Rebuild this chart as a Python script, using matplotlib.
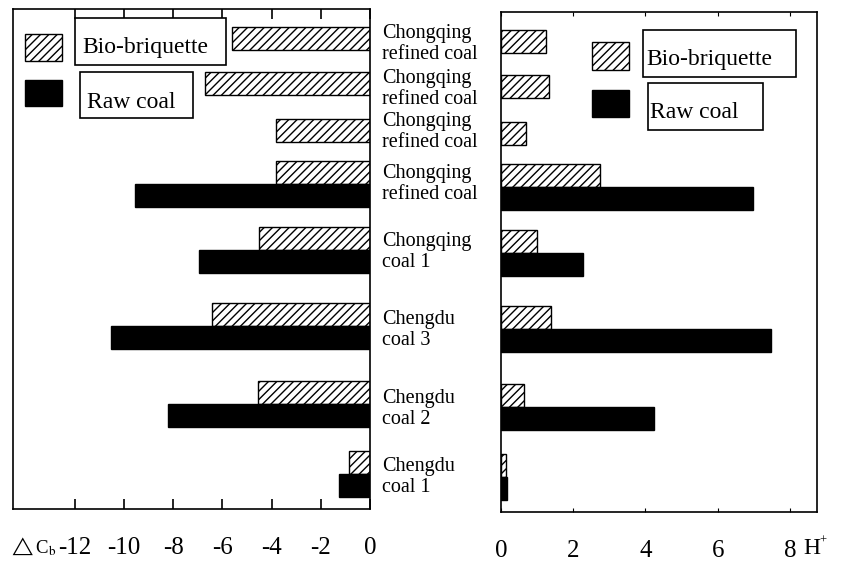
import numpy as np
import matplotlib
matplotlib.use('Agg')
import matplotlib.pyplot as plt
from matplotlib.patches import Rectangle
from matplotlib.transforms import Affine2D

plt.rcParams['font.family'] = ['Liberation Serif', 'DejaVu Serif']
plt.rcParams['mathtext.fontset'] = 'stix'
plt.rcParams['hatch.linewidth'] = 1.0

# données
categories = ['Chongqing\nrefined coal', 'Chongqing\nrefined coal',
              'Chongqing\nrefined coal', 'Chongqing\nrefined coal',
              'Chongqing\ncoal 1', 'Chengdu\ncoal 3', 'Chengdu\ncoal 2',
              'Chengdu\ncoal 1']
dcb_bio = [-5.6, -6.7, -3.8, -3.8, -4.5, -6.4, -4.55, -0.85]
dcb_raw = [np.nan, np.nan, np.nan, -9.55, -6.95, -10.5, -8.2, -1.25]
h_bio = [1.25, 1.33, 0.7, 2.75, 1.0, 1.39, 0.64, 0.14]
h_raw = [np.nan, np.nan, np.nan, 6.97, 2.28, 7.47, 4.25, 0.17]
left_ticks = [-12, -10, -8, -6, -4, -2, 0]
right_ticks = [0, 2, 4, 6, 8]

# mise en page (lignes irrégulières comme sur l'original)
row_y = np.array([29, 74, 121, 175, 241, 317, 395, 465])
label_dy = [6, 6, 2, 0, 2, 4, 5, 3]
bar_h = 23

W, H = 841, 564
fig = plt.figure(figsize=(W / 100, H / 100), dpi=100)
px = Affine2D().scale(1 / W, -1 / H).translate(0, 1) + fig.transFigure

ax1 = fig.add_axes([13 / W, 1 - 509 / H, 357 / W, 500 / H])
ax2 = fig.add_axes([501 / W, 1 - 512 / H, 316 / W, 500 / H])


def draw(ax, bio, raw):
    raw = np.array(raw)
    two = ~np.isnan(raw)
    y_bio = np.where(two, row_y - bar_h / 2, row_y)
    ax.barh(y_bio, bio, height=bar_h, color='white', edgecolor='black',
            hatch='////', linewidth=1.0)
    ax.barh(row_y[two] + bar_h / 2, raw[two], height=bar_h, color='black',
            edgecolor='black', linewidth=1.0)
    ax.set_ylim(500, 0)
    ax.set_yticks([])
    for s in ax.spines.values():
        s.set_linewidth(1.2)


draw(ax1, dcb_bio, dcb_raw)
draw(ax2, h_bio, h_raw)

ax1.set_xlim(-14.5, 0)
ax1.set_xticks(left_ticks)
ax1.set_xticklabels([str(t) for t in left_ticks])
ax1.tick_params(axis='x', direction='in', top=True, length=7, width=1.2,
                labelsize=18, pad=20)

ax2.set_xlim(0, 8.75)
ax2.set_xticks(right_ticks)
ax2.tick_params(axis='x', direction='in', top=True, length=3, width=0.8,
                labelsize=18, pad=20)

# noms des charbons entre les deux graphiques
for y, dy, name in zip(row_y, label_dy, categories):
    ax1.text(1.033, y + dy, name, transform=ax1.get_yaxis_transform(),
             ha='left', va='center', fontsize=14.5, linespacing=1.08)

fig.text(9 / W, 1 - 547 / H, r'$\triangle$C$_{\rm b}$', fontsize=13.5,
         va='center', ha='left')
fig.text(803 / W, 1 - 549 / H, 'H', fontsize=17, va='center', ha='left')
fig.text(819 / W, 1 - 541 / H, '+', fontsize=9, va='center', ha='left')


# légendes dessinées à la main
def legend(sq_x, sq1_y, sq2_y, box1, box2):
    fig.patches.append(Rectangle((sq_x, sq1_y[1]), 37, sq1_y[0] - sq1_y[1],
                                 transform=px, facecolor='white',
                                 edgecolor='black', hatch='////', lw=1.0))
    fig.patches.append(Rectangle((sq_x, sq2_y[1]), 37, sq2_y[0] - sq2_y[1],
                                 transform=px, facecolor='black',
                                 edgecolor='black', lw=1.0))
    for (x0, x1, y0, y1, tx, ty, txt) in (box1, box2):
        fig.patches.append(Rectangle((x0, y1), x1 - x0, y0 - y1,
                                     transform=px, facecolor='white',
                                     edgecolor='black', lw=1.2))
        fig.text(tx, ty, txt, transform=px, fontsize=17, ha='left',
                 va='center')


legend(25, (34, 61), (80, 106),
       (75, 226, 18, 65, 82, 48, 'Bio-briquette'),
       (80, 193, 72, 118, 87, 103, 'Raw coal'))
legend(592, (42, 70), (90, 117),
       (643, 796, 30, 77, 646, 60, 'Bio-briquette'),
       (648, 763, 83, 130, 650, 113, 'Raw coal'))

fig.savefig('out.png', dpi=100)
